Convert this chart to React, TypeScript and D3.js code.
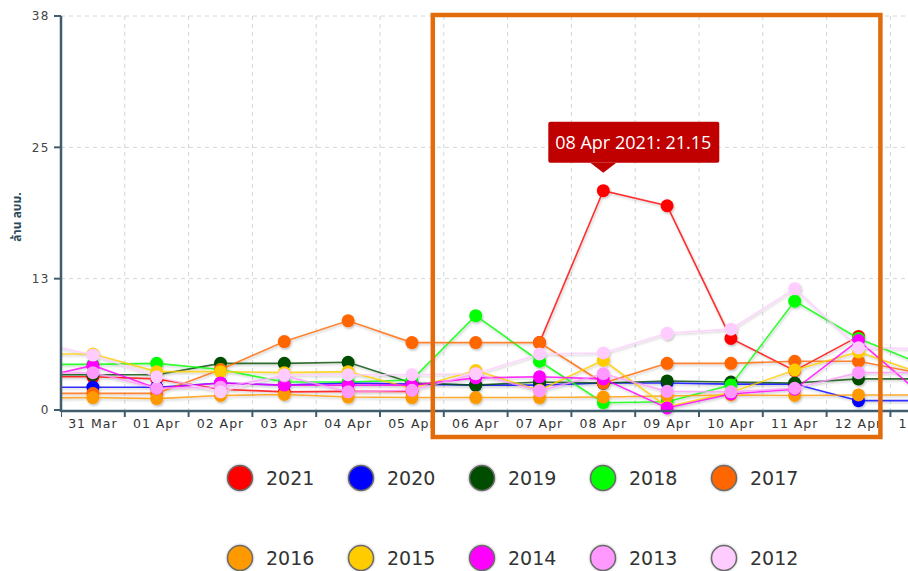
import * as d3 from "d3";
import React from "react";

// categories (30 Mar and 13 Apr sit partly outside the visible plot)
const dates = [
  "30 Mar", "31 Mar", "01 Apr", "02 Apr", "03 Apr", "04 Apr", "05 Apr",
  "06 Apr", "07 Apr", "08 Apr", "09 Apr", "10 Apr", "11 Apr", "12 Apr", "13 Apr",
];
const years = ["2021", "2020", "2019", "2018", "2017", "2016", "2015", "2014", "2013", "2012"];
const colors = [
  "#ff0000", "#0000ff", "#004d00", "#00ff00", "#ff6600",
  "#ff9900", "#ffcc00", "#ff00ff", "#ff99ff", "#ffccff",
];

// ล้าน ลบม. per day
const v2021 = [3.2, 3.2, 3.0, 2.0, 1.75, 1.8, 1.8, null, 6.5, 21.15, 19.7, 6.9, 3.8, 7.1, null];
const v2020 = [2.2, 2.2, 2.2, 2.6, 2.4, 2.6, 2.5, 2.4, 2.4, 2.6, 2.6, 2.5, 2.5, 0.9, 0.9];
const v2019 = [3.4, 3.4, 3.4, 4.5, 4.5, 4.6, 2.6, 2.4, 2.7, 2.6, 2.8, 2.7, 2.6, 3.0, 3.0];
const v2018 = [4.4, 4.4, 4.5, 3.9, 2.7, 2.7, 2.9, 9.1, 4.7, 0.7, 0.8, 2.4, 10.5, 6.9, 4.4];
const v2017 = [1.6, 1.6, 1.6, 3.9, 6.6, 8.6, 6.5, 6.5, 6.5, 2.6, 4.5, 4.5, 4.7, 4.7, 3.5];
const v2016 = [1.15, 1.2, 1.1, 1.4, 1.5, 1.25, 1.2, 1.2, 1.2, 1.25, 1.35, 1.45, 1.4, 1.45, 1.45];
const v2015 = [5.4, 5.4, 3.7, 3.7, 3.6, 3.7, 2.1, 3.8, 1.9, 4.8, 0.3, 1.7, 3.85, 5.6, 3.5];
const v2014 = [2.9, 4.3, 2.1, 2.6, 2.4, 2.4, 2.4, 3.1, 3.2, 3.0, 0.2, 1.55, 2.0, 6.7, 1.4];
const v2013 = [3.5, 3.6, 2.1, 2.2, 3.3, 1.75, 1.9, 3.5, 1.85, 3.5, 1.8, 1.75, 2.1, 3.6, 3.6];
const v2012 = [6.7, 5.3, 3.2, 1.75, 3.4, 3.4, 3.4, 3.5, 5.4, 5.5, 7.4, 7.8, 11.7, 6.0, 5.9];

const seriesValues = [v2021, v2020, v2019, v2018, v2017, v2016, v2015, v2014, v2013, v2012];

const yMax = 38;
const yTickCount = 3;
const yLabel = "ล้าน ลบม.";

// highlighted point (tooltip) and the boxed range
const tipDate = "08 Apr";
const tipYear = "2021";
const boxFrom = "06 Apr";
const boxTo = "12 Apr";

const width = 908;
const height = 571;
const plotLeft = 61;
const plotTop = 16;
const plotBottom = 410;
const bandW = 63.8;
const axisColor = "#3f5d6d";

export default function App() {
  const x = d3
    .scaleBand()
    .domain(dates)
    .range([plotLeft - bandW, plotLeft - bandW + dates.length * bandW])
    .padding(0);
  const y = d3.scaleLinear().domain([0, yMax]).range([plotBottom, plotTop]);
  const yTicks = d3.range(0, yTickCount + 1).map((i) => (yMax / yTickCount) * i);
  const cx = (d) => x(d) + x.bandwidth() / 2;

  const line = d3
    .line()
    .defined((v) => v != null)
    .x((_, i) => cx(dates[i]))
    .y((v) => y(v));

  const series = years.map((year, k) => ({
    year,
    color: colors[k],
    values: seriesValues[k],
  }));

  const tipIdx = dates.indexOf(tipDate);
  const tipValue = seriesValues[years.indexOf(tipYear)][tipIdx];
  const tx = cx(tipDate);
  const ty = y(tipValue);
  const tipBottom = ty - 28;

  const legendX = d3.scalePoint().domain(d3.range(5)).range([240, 724]);
  const legendY = [478, 558];

  return (
    <div style={{ position: "absolute", left: 0, top: 0 }}>
      <svg width={width} height={height} style={{ display: "block", background: "#fff" }}>
        <defs>
          <clipPath id="plotClip">
            <rect x={plotLeft} y={0} width={width} height={plotBottom + 20} />
          </clipPath>
          <clipPath id="xClip">
            <rect x={plotLeft} y={plotBottom} width={width} height={40} />
          </clipPath>
          <filter id="shadow" x="-20%" y="-20%" width="140%" height="140%">
            <feDropShadow dx="1" dy="1.5" stdDeviation="1" floodColor="#000" floodOpacity="0.25" />
          </filter>
          <filter id="legShadow" x="-30%" y="-30%" width="160%" height="160%">
            <feDropShadow dx="0" dy="0" stdDeviation="1.2" floodColor="#000" floodOpacity="0.35" />
          </filter>
        </defs>

        {/* grid */}
        <g stroke="#cfd6da" strokeDasharray="4,4" strokeWidth={1}>
          {yTicks.slice(1).map((t) => (
            <line key={t} x1={plotLeft} x2={width} y1={y(t)} y2={y(t)} />
          ))}
          {dates.map((d) => (
            <line key={d} x1={x(d) + bandW} x2={x(d) + bandW} y1={plotTop} y2={plotBottom} />
          ))}
        </g>

        {/* series */}
        <g clipPath="url(#plotClip)">
          <g filter="url(#shadow)">
            {series.map((s) => (
              <g key={s.year}>
                <path d={line(s.values)} fill="none" stroke={s.color} strokeWidth={1.6} strokeOpacity={0.8} />
                {s.values.map((v, i) =>
                  v == null ? null : (
                    <circle key={i} cx={cx(dates[i])} cy={y(v)} r={6.5} fill={s.color} />
                  )
                )}
              </g>
            ))}
          </g>
        </g>

        {/* y axis */}
        <g fontFamily="DejaVu Sans, Verdana, sans-serif" fontSize={12} fill="#444">
          <line x1={plotLeft} x2={plotLeft} y1={plotTop} y2={plotBottom + 2} stroke={axisColor} strokeWidth={2.5} />
          {yTicks.map((t) => (
            <g key={t}>
              <line x1={plotLeft - 7} x2={plotLeft} y1={y(t)} y2={y(t)} stroke={axisColor} strokeWidth={2} />
              <text x={plotLeft - 11} y={y(t)} dy="0.35em" textAnchor="end" letterSpacing={1.5}>
                {d3.format(".0f")(t)}
              </text>
            </g>
          ))}
          <text
            transform={`translate(21,${(plotTop + plotBottom) / 2 + 4}) rotate(-90)`}
            textAnchor="middle"
            fontSize={12}
            fontWeight="bold"
            fill="#2d4a5a"
            fontFamily="Noto Sans Thai, Tahoma, Noto Sans, sans-serif"
          >
            {yLabel}
          </text>
        </g>

        {/* x axis */}
        <line x1={plotLeft} x2={width} y1={plotBottom + 1} y2={plotBottom + 1} stroke={axisColor} strokeWidth={2.5} />
        <g clipPath="url(#xClip)" fontFamily="DejaVu Sans, Verdana, sans-serif" fontSize={12.5} fill="#333">
          {dates.map((d) => (
            <g key={d}>
              <line x1={x(d) + bandW} x2={x(d) + bandW} y1={plotBottom} y2={plotBottom + 7} stroke={axisColor} strokeWidth={2} />
              <text x={cx(d)} y={plotBottom + 18} textAnchor="middle" letterSpacing={1}>
                {d}
              </text>
            </g>
          ))}
        </g>

        {/* tooltip */}
        <g>
          <rect x={tx - 55} y={tipBottom - 41} width={171} height={41} rx={2} fill="#c00000" />
          <path d={`M${tx - 13},${tipBottom} L${tx + 13},${tipBottom} L${tx},${ty - 18} Z`} fill="#c00000" />
          <text
            x={tx + 30}
            y={tipBottom - 20}
            dy="0.35em"
            textAnchor="middle"
            fill="#fff"
            fontSize={18}
            fontFamily="Open Sans, Noto Sans, sans-serif"
          >
            {`${tipDate} ${tipYear}: ${tipValue}`}
          </text>
        </g>

        {/* highlight box */}
        <rect
          x={x(boxFrom) - 11}
          y={15}
          width={x(boxTo) + bandW - 10 - (x(boxFrom) - 11)}
          height={422}
          fill="none"
          stroke="#e36c0a"
          strokeWidth={4.5}
        />

        {/* legend */}
        <g fontFamily="DejaVu Sans, Tahoma, sans-serif" fontSize={19} fill="#333">
          {series.map((s, k) => (
            <g key={s.year} transform={`translate(${legendX(k % 5)},${legendY[Math.floor(k / 5)]})`}>
              <circle r={12.5} fill={s.color} stroke="#6b6b6b" strokeWidth={1.5} filter="url(#legShadow)" />
              <text x={26} dy="0.36em">
                {s.year}
              </text>
            </g>
          ))}
        </g>
      </svg>
    </div>
  );
}
